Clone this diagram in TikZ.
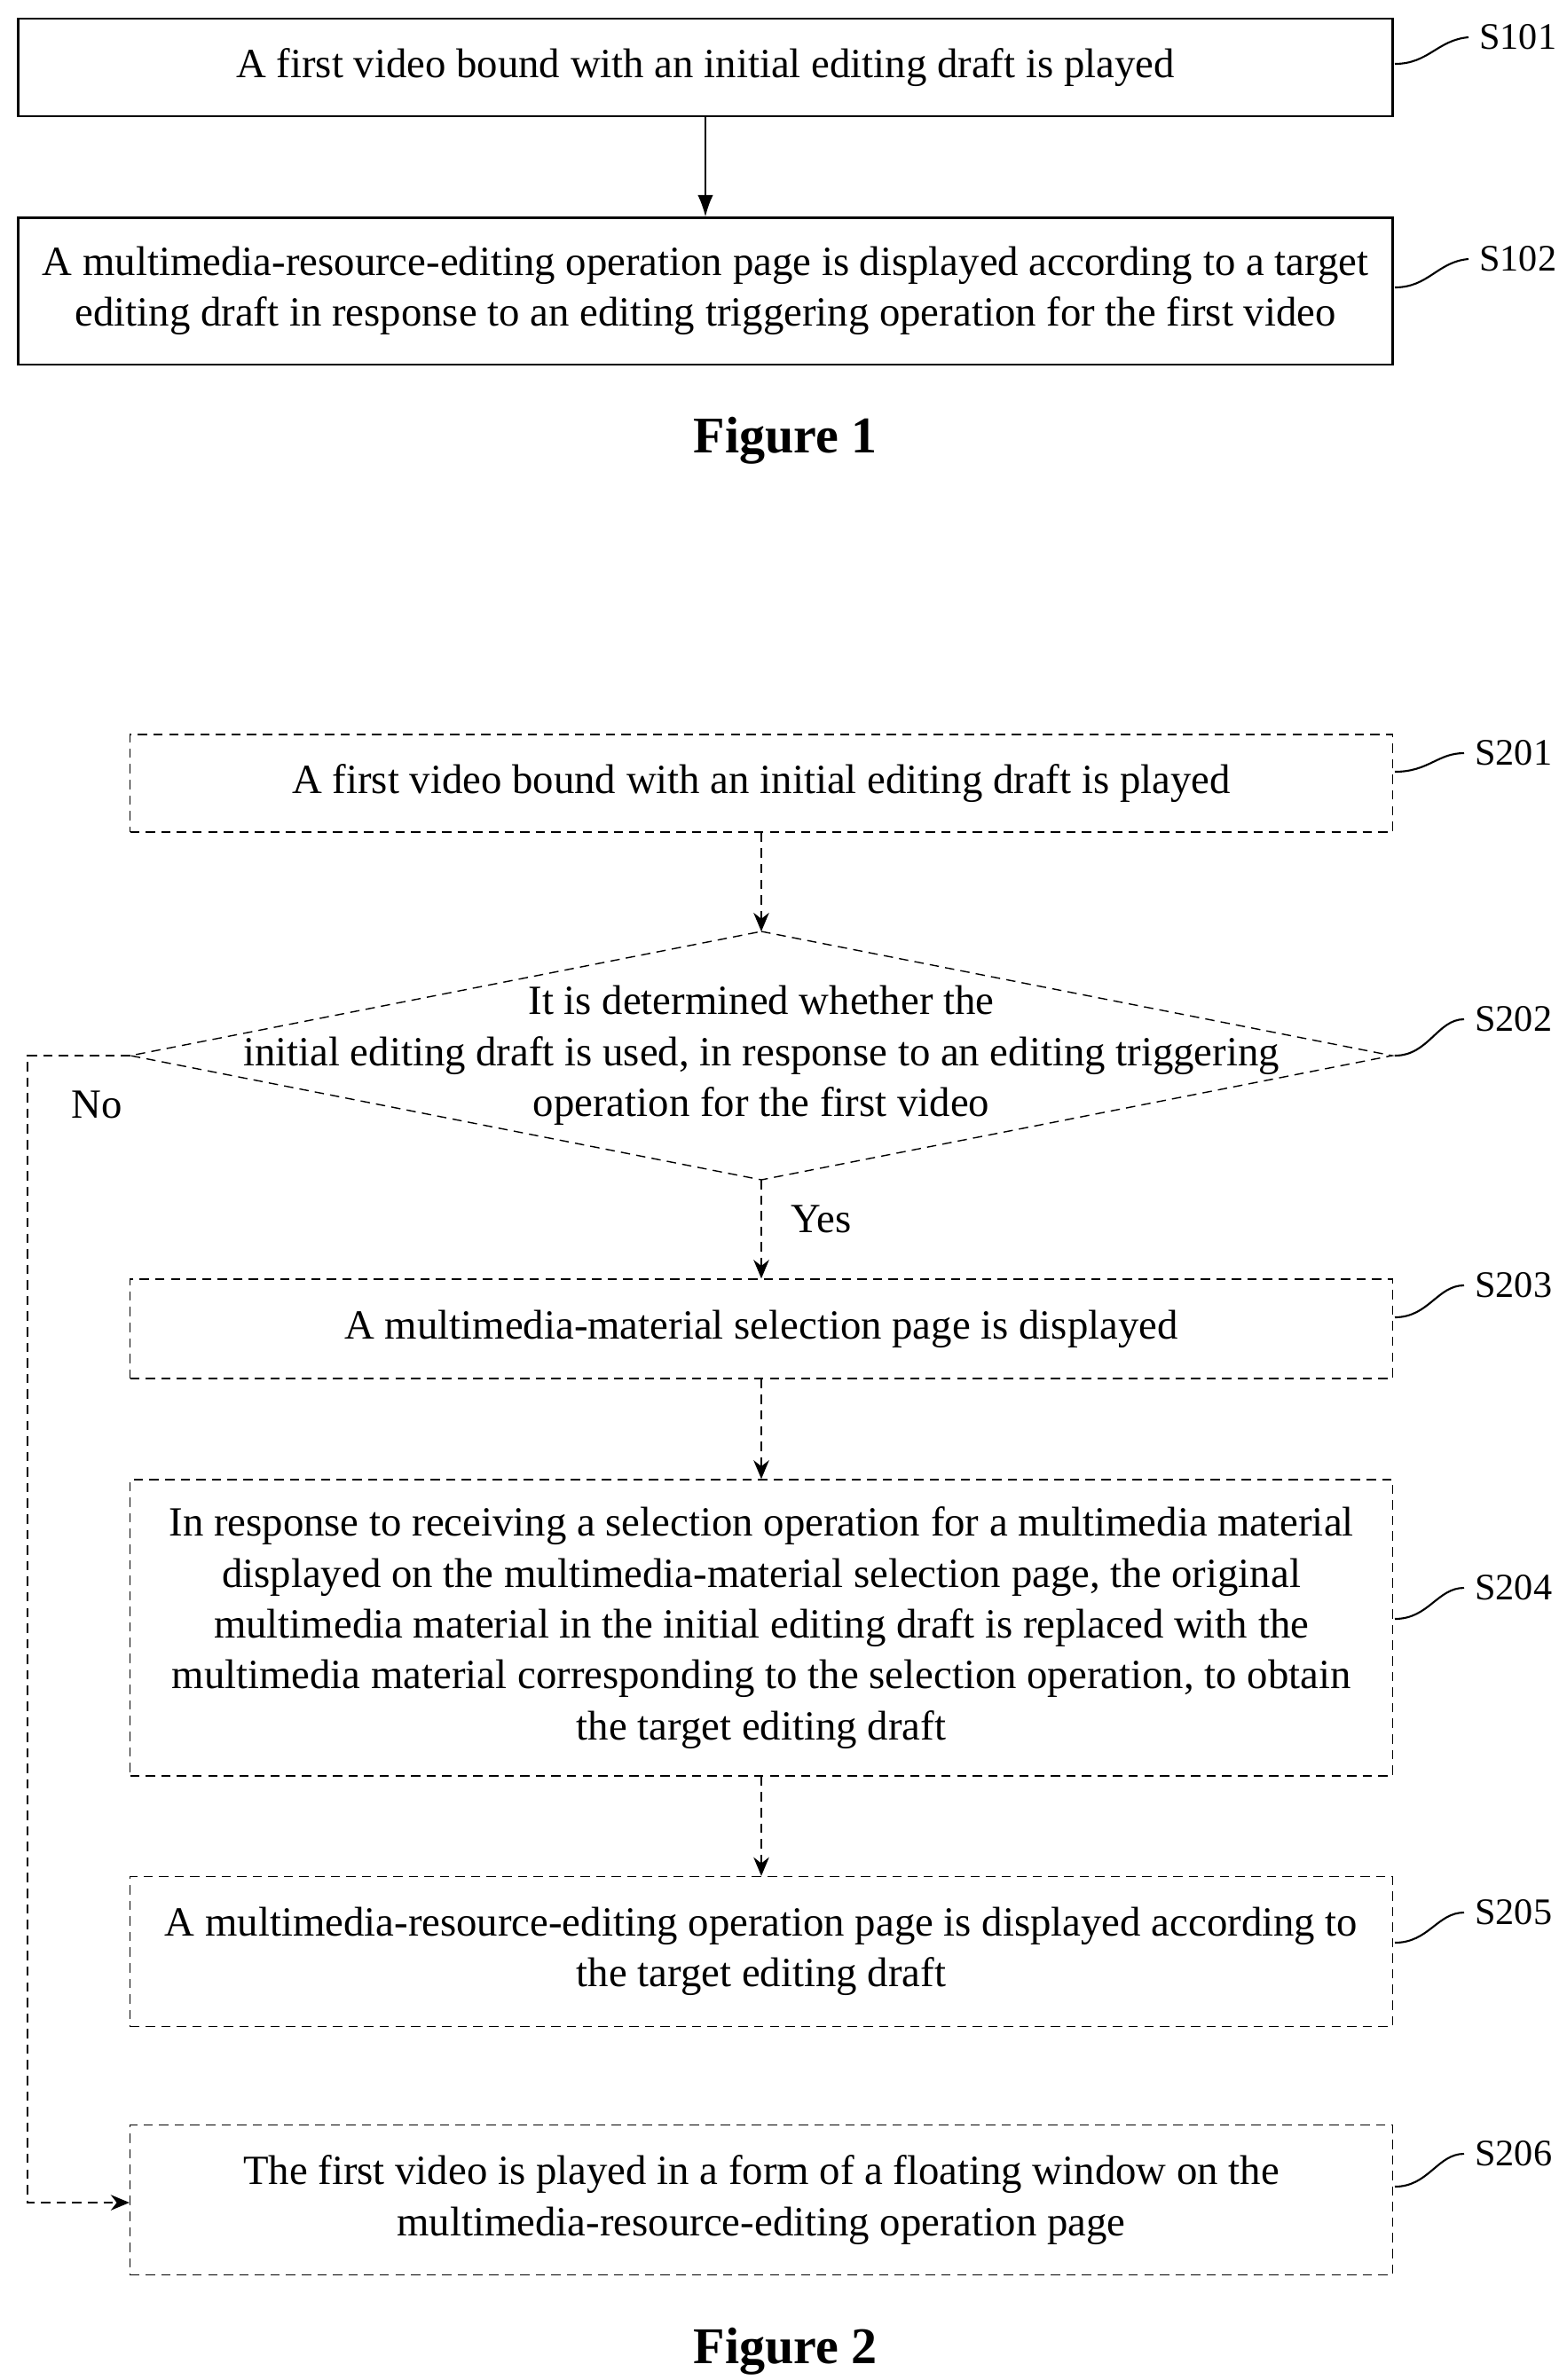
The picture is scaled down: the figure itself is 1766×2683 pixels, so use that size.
\documentclass[tikz,border=0pt]{standalone}
\usepackage{fontspec}
\setmainfont{Liberation Serif}
\usetikzlibrary{arrows.meta}
\begin{document}
\begin{tikzpicture}[x=0.01cm,y=-0.01cm,
  box/.style={draw, line width=0.6pt, align=center, inner sep=0pt, font=\fontsize{13.3}{16.3}\selectfont},
  dbox/.style={box, densely dashed, line width=0.4pt},
  tag/.style={anchor=west, font=\fontsize{12}{14}\selectfont},
  caption/.style={font=\fontsize{16.5}{18}\selectfont\bfseries},
  flow/.style={-{Latex[length=7pt,width=5pt]}, line width=0.6pt},
  dflow/.style={-{Stealth[length=6pt,width=5pt]}, densely dashed, line width=0.4pt},
  hook/.style={line width=0.6pt},
]
  \useasboundingbox (0,0) rectangle (1766,2683);
  % Figure 1
  \node[box, minimum width=15.48cm, minimum height=1.10cm] (s101) at (795,76) {A first video bound with an initial editing draft is played};
  \node[box, minimum width=15.48cm, minimum height=1.65cm] (s102) at (795,328) {A multimedia-resource-editing operation page is displayed according to a target\\editing draft in response to an editing triggering operation for the first video};
  \draw[flow] (s101) -- (s102);
  \node[tag] (t101) at (1655,42) {S101};
  \node[tag] (t102) at (1655,292) {S102};
  \draw[hook] (1572,72) .. controls (1610,72) and (1620,45) .. (t101.west);
  \draw[hook] (1572,324) .. controls (1610,324) and (1620,295) .. (t102.west);
  \node[caption] (fig1) at (885,497) {Figure 1};
  % Figure 2
  \node[dbox, minimum width=14.22cm, minimum height=1.10cm] (s201) at (858,883) {A first video bound with an initial editing draft is played};
  \coordinate (dt) at (858,1050);
  \coordinate (dr) at (1569,1190);
  \coordinate (db) at (858,1330);
  \coordinate (dl) at (147,1190);
  \draw[densely dashed, line width=0.4pt] (dt) -- (dr) -- (db) -- (dl) -- cycle;
  \node[align=center, font=\fontsize{13.3}{16.3}\selectfont] (s202) at (858,1190) {It is determined whether the\\initial editing draft is used, in response to an editing triggering\\operation for the first video};
  \node[dbox, minimum width=14.22cm, minimum height=1.12cm] (s203) at (858,1498) {A multimedia-material selection page is displayed};
  \node[dbox, minimum width=14.22cm, minimum height=3.34cm] (s204) at (858,1835) {In response to receiving a selection operation for a multimedia material\\displayed on the multimedia-material selection page, the original\\multimedia material in the initial editing draft is replaced with the\\multimedia material corresponding to the selection operation, to obtain\\the target editing draft};
  \node[dbox, minimum width=14.22cm, minimum height=1.69cm] (s205) at (858,2200) {A multimedia-resource-editing operation page is displayed according to\\the target editing draft};
  \node[dbox, minimum width=14.22cm, minimum height=1.69cm] (s206) at (858,2480) {The first video is played in a form of a floating window on the\\multimedia-resource-editing operation page};
  \draw[dflow] (s201) -- (dt);
  \draw[dflow] (db) -- (s203) node[pos=0.4, right=6pt, font=\fontsize{13.3}{15}\selectfont] {Yes};
  \draw[dflow] (s203) -- (s204);
  \draw[dflow] (s204) -- (s205);
  \draw[dflow] (dl) -- (31,1190) -- (31,2483) -- (s206.west |- 0,2483);
  \node[font=\fontsize{13.3}{15}\selectfont] (no) at (109,1245) {No};
  \foreach \n/\y/\ty in {201/870/849, 202/1190/1149, 203/1485/1449, 204/1825/1790, 205/2190/2156, 206/2465/2428} {
    \node[tag] (t\n) at (1650,\ty) {S\n};
    \draw[hook] (1572,\y) .. controls (1610,\y) and (1620,\ty) .. (t\n.west);
  }
  \node[caption] (fig2) at (885,2651) {Figure 2};
\end{tikzpicture}
\end{document}
